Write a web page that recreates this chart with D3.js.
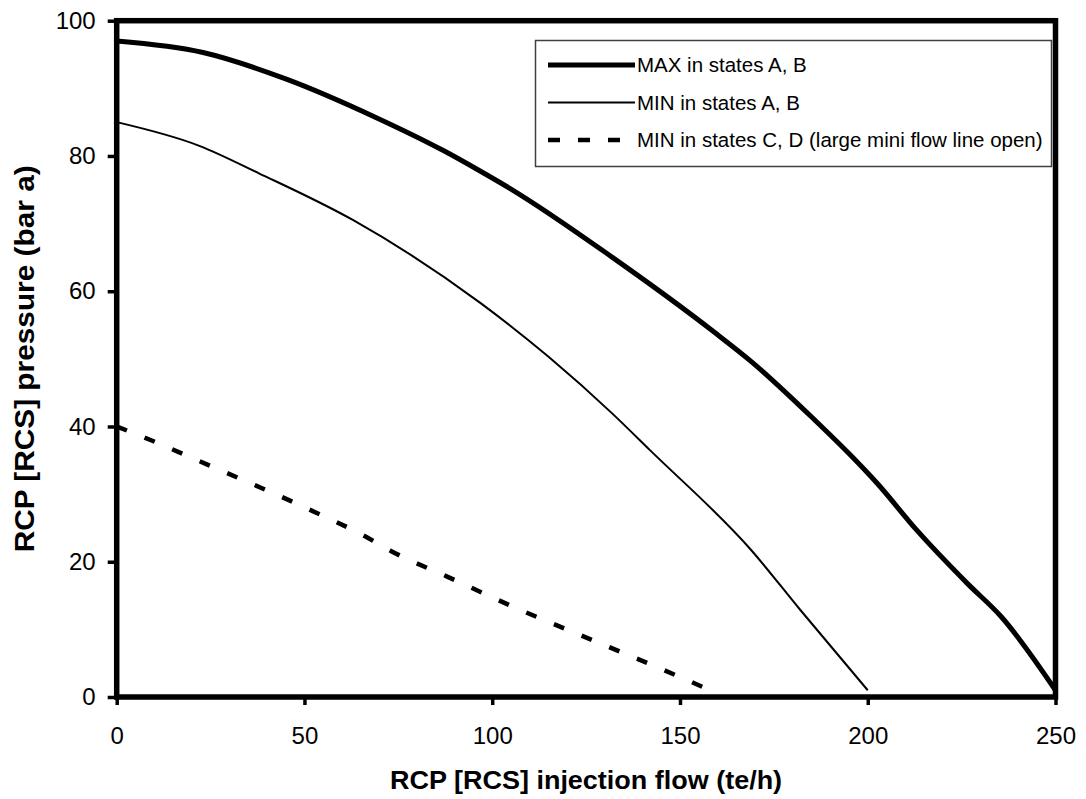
<!DOCTYPE html>
<html>
<head>
<meta charset="utf-8">
<script src="https://cdn.jsdelivr.net/npm/d3@7"></script>
<style>
  html, body { margin: 0; padding: 0; background: #fff; }
  svg { display: block; font-family: Arial, "Liberation Sans", sans-serif; }
</style>
</head>
<body>
<svg id="chart" width="1086" height="799"></svg>
<script>
// ---- data ----
const maxAB = [[0,97],[23,95.3],[45,91.4],[69,85.7],[87,80.8],[97,77.7],[105,75.1],[132,65.0],[159,54.0],[169,49.6],[186,40.9],[195,36.0],[202.5,31.6],[213,24.7],[226.5,16.8],[235.5,11.9],[250,1]];
const minAB = [[0,85],[22,81.5],[38,77.4],[63,70.5],[97,58.2],[115,50.3],[132,41.9],[142,36.5],[169,21.7],[182,12.9],[200,1]];
const minCD = [[0,40],[9,38],[24,34.4],[39,30.8],[51,27.8],[66,23.8],[73,21.6],[88,17.8],[107,13.0],[128,8.1],[149,3.2],[158,1]];
const xTicks = [0,50,100,150,200,250];
const yTicks = [0,20,40,60,80,100];
const seriesNames = ["MAX in states A, B","MIN in states A, B","MIN in states C, D (large mini flow line open)"];
const xTitle = "RCP [RCS] injection flow (te/h)";
const yTitle = "RCP [RCS] pressure (bar a)";

const svg = d3.select("#chart");
const L = 116.7, R = 1055.5, T = 20.7, B = 697;
const x = d3.scaleLinear().domain([0,250]).range([L,R]);
const y = d3.scaleLinear().domain([0,100]).range([B,T]);

// axes
const xAxis = svg.append("g").attr("transform",`translate(0,${B})`)
  .call(d3.axisBottom(x).tickValues(xTicks).tickSize(8).tickPadding(39));
const yAxis = svg.append("g").attr("transform",`translate(${L},0)`)
  .call(d3.axisLeft(y).tickValues(yTicks).tickSize(9).tickPadding(12));
[xAxis,yAxis].forEach(a=>{
  a.select(".domain").remove();
  a.selectAll(".tick line").attr("stroke","#000").attr("stroke-width",3.5);
  a.selectAll(".tick text").attr("font-size",24).attr("fill","#000")
    .attr("font-family","Arial, 'Liberation Sans', sans-serif");
});
xAxis.selectAll(".tick text").attr("dy","0");

// lines
const line = d3.line().x(d=>x(d[0])).y(d=>y(d[1])).curve(d3.curveMonotoneX);
svg.append("path").datum(minCD).attr("d",line).attr("fill","none")
  .attr("stroke","#000").attr("stroke-width",4.5).attr("stroke-dasharray","11,19");
svg.append("path").datum(minAB).attr("d",line).attr("fill","none")
  .attr("stroke","#000").attr("stroke-width",2);
svg.append("path").datum(maxAB).attr("d",line).attr("fill","none")
  .attr("stroke","#000").attr("stroke-width",5).attr("stroke-linejoin","round");

// frame
svg.append("rect").attr("x",L).attr("y",T).attr("width",R-L).attr("height",B-T)
  .attr("fill","none").attr("stroke","#000").attr("stroke-width",5.5);

// legend
const lg = svg.append("g");
lg.append("rect").attr("x",535.5).attr("y",40.5).attr("width",516).attr("height",126)
  .attr("fill","#fff").attr("stroke","#404040").attr("stroke-width",1.5);
const rows = [
  {w:5, dash:null, y:65},
  {w:2, dash:null, y:102.5},
  {w:4.5, dash:"12,18", y:140}
];
rows.forEach((r,i)=>{
  lg.append("line").attr("x1",548).attr("x2",635).attr("y1",r.y).attr("y2",r.y)
    .attr("stroke","#000").attr("stroke-width",r.w).attr("stroke-dasharray",r.dash);
  lg.append("text").attr("x",637).attr("y",r.y).attr("dy","0.35em")
    .attr("font-size",20.5).attr("fill","#000").text(seriesNames[i]);
});

// titles
svg.append("text").attr("x",(L+R)/2).attr("y",789).attr("text-anchor","middle")
  .attr("font-size",25).attr("font-weight","bold")
  .attr("textLength",392).attr("lengthAdjust","spacingAndGlyphs").text(xTitle);
svg.append("text").attr("transform",`translate(34,${(T+B)/2}) rotate(-90)`)
  .attr("text-anchor","middle").attr("font-size",27).attr("font-weight","bold")
  .attr("textLength",387).attr("lengthAdjust","spacingAndGlyphs").text(yTitle);
</script>
</body>
</html>
